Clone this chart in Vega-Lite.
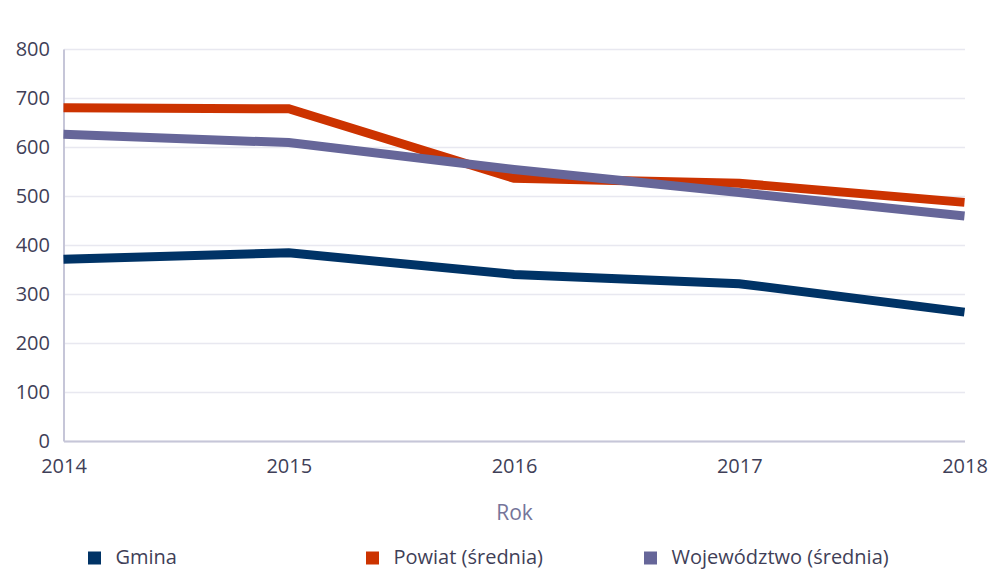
{
  "$schema": "https://vega.github.io/schema/vega-lite/v6.json",
  "autosize": "none",
  "width": 901,
  "height": 392,
  "padding": {"left": 63.5, "top": 49, "right": 24, "bottom": 130},
  "background": "white",
  "data": {
    "values": [
      {"rok": "2014", "seria": "Gmina", "wartosc": 371},
      {"rok": "2015", "seria": "Gmina", "wartosc": 384},
      {"rok": "2016", "seria": "Gmina", "wartosc": 340},
      {"rok": "2017", "seria": "Gmina", "wartosc": 321},
      {"rok": "2018", "seria": "Gmina", "wartosc": 263},
      {"rok": "2014", "seria": "Powiat (średnia)", "wartosc": 680},
      {"rok": "2015", "seria": "Powiat (średnia)", "wartosc": 678},
      {"rok": "2016", "seria": "Powiat (średnia)", "wartosc": 536},
      {"rok": "2017", "seria": "Powiat (średnia)", "wartosc": 526},
      {"rok": "2018", "seria": "Powiat (średnia)", "wartosc": 487},
      {"rok": "2014", "seria": "Województwo (średnia)", "wartosc": 626},
      {"rok": "2015", "seria": "Województwo (średnia)", "wartosc": 609},
      {"rok": "2016", "seria": "Województwo (średnia)", "wartosc": 554},
      {"rok": "2017", "seria": "Województwo (średnia)", "wartosc": 507},
      {"rok": "2018", "seria": "Województwo (średnia)", "wartosc": 459}
    ]
  },
  "mark": {"type": "line", "strokeWidth": 9, "strokeJoin": "miter", "strokeCap": "butt"},
  "encoding": {
    "x": {
      "field": "rok", "type": "ordinal",
      "scale": {"type": "point", "padding": 0},
      "axis": {
        "title": "Rok", "labelAngle": 0, "grid": false, "ticks": false,
        "labelPadding": 15, "titlePadding": 26,
        "domainColor": "#c6c6d8", "domainWidth": 2
      }
    },
    "y": {
      "field": "wartosc", "type": "quantitative",
      "scale": {"domain": [0, 800], "nice": false},
      "axis": {
        "title": null, "values": [0, 100, 200, 300, 400, 500, 600, 700, 800],
        "ticks": false, "labelPadding": 14,
        "gridColor": "#e8e8f0", "gridWidth": 1.5,
        "domainColor": "#c6c6d8", "domainWidth": 2
      }
    },
    "color": {
      "field": "seria", "type": "nominal",
      "scale": {
        "domain": ["Gmina", "Powiat (średnia)", "Województwo (średnia)"],
        "range": ["#003366", "#cc3300", "#666699"]
      },
      "legend": {
        "title": null, "orient": "none", "direction": "horizontal", "columns": 3,
        "gridAlign": "all", "columnPadding": 22,
        "legendX": 21, "legendY": 499,
        "symbolType": "square", "symbolSize": 36, "symbolStrokeWidth": 7,
        "labelOffset": 11, "labelFontSize": 20, "labelFont": "Open Sans",
        "labelColor": "#3f3f58", "labelLimit": 400
      }
    }
  },
  "config": {
    "view": {"stroke": null},
    "axis": {
      "labelFont": "Open Sans", "labelFontSize": 20, "labelColor": "#3f3f58",
      "titleFont": "Open Sans", "titleFontSize": 21, "titleFontWeight": "normal",
      "titleColor": "#75759a"
    }
  }
}
